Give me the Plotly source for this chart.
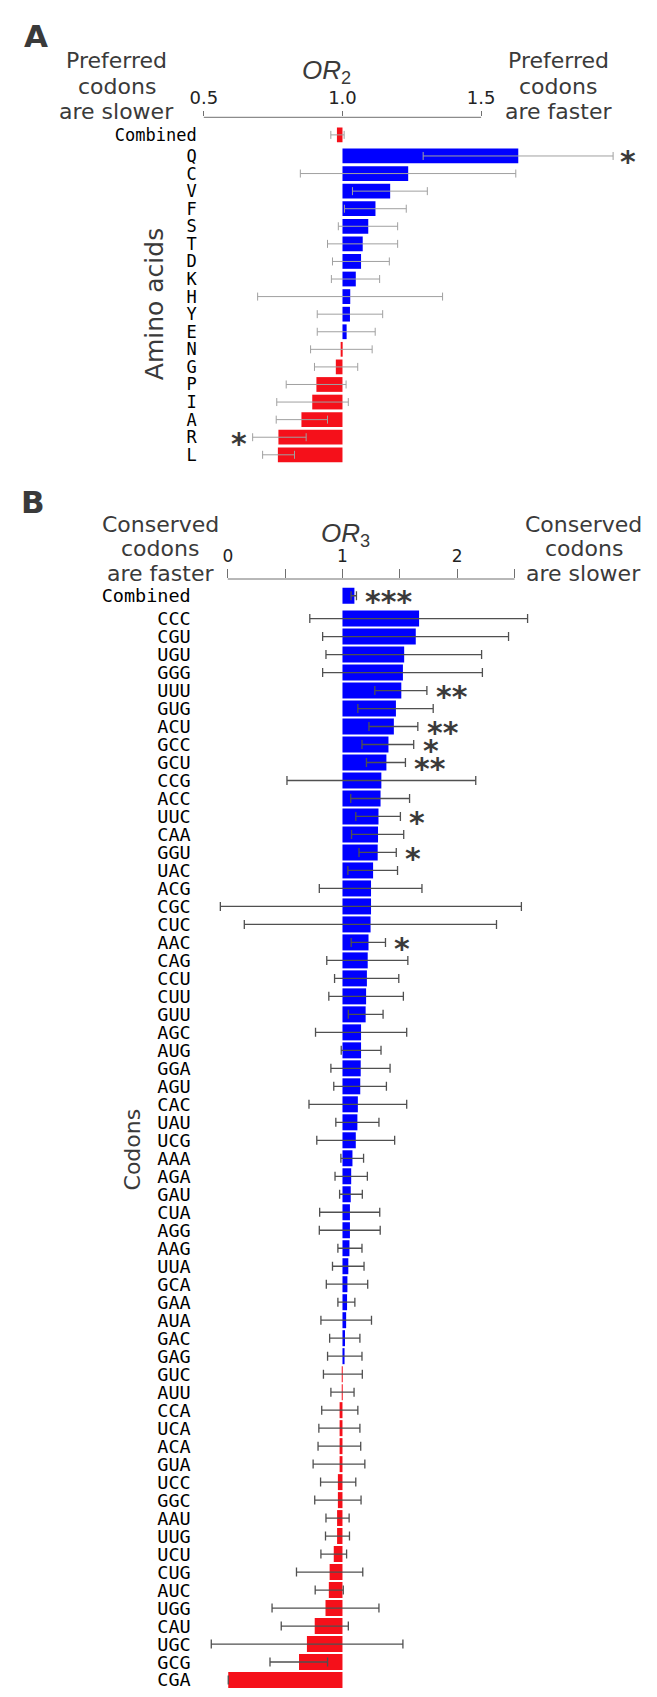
import plotly.graph_objects as go

# ---- panel A: amino acids, OR2 ----
aa_labels = ["Combined", "Q", "C", "V", "F", "S", "T", "D", "K", "H", "Y",
             "E", "N", "G", "P", "I", "A", "R", "L"]
aa_or = [0.980, 1.634, 1.237, 1.172, 1.119, 1.093, 1.073, 1.067, 1.048, 1.028,
         1.027, 1.015, 0.996, 0.976, 0.906, 0.891, 0.852, 0.769, 0.767]
aa_low = [0.958, 1.291, 0.848, 1.036, 1.007, 0.985, 0.946, 0.964, 0.960, 0.694,
          0.909, 0.909, 0.885, 0.899, 0.797, 0.763, 0.761, 0.676, 0.712]
aa_high = [1.006, 1.976, 1.625, 1.306, 1.230, 1.199, 1.199, 1.169, 1.134, 1.361,
           1.145, 1.118, 1.107, 1.055, 1.013, 1.021, 0.946, 0.869, 0.827]
aa_stars = ["", "*", "", "", "", "", "", "", "", "", "", "", "", "", "", "", "", "*", ""]
aa_ticks = [0.5, 1.0, 1.5]
aa_ticktext = ["0.5", "1.0", "1.5"]

# ---- panel B: codons, OR3 ----
cd_labels = ["Combined", "CCC", "CGU", "UGU", "GGG", "UUU", "GUG", "ACU", "GCC", "GCU",
             "CCG", "ACC", "UUC", "CAA", "GGU", "UAC", "ACG", "CGC", "CUC", "AAC",
             "CAG", "CCU", "CUU", "GUU", "AGC", "AUG", "GGA", "AGU", "CAC", "UAU",
             "UCG", "AAA", "AGA", "GAU", "CUA", "AGG", "AAG", "UUA", "GCA", "GAA",
             "AUA", "GAC", "GAG", "GUC", "AUU", "CCA", "UCA", "ACA", "GUA", "UCC",
             "GGC", "AAU", "UUG", "UCU", "CUG", "AUC", "UGG", "CAU", "UGC", "GCG", "CGA"]
cd_or = [1.104, 1.668, 1.639, 1.538, 1.527, 1.513, 1.466, 1.448, 1.401, 1.383,
         1.339, 1.332, 1.314, 1.310, 1.307, 1.267, 1.249, 1.249, 1.245, 1.227,
         1.220, 1.213, 1.206, 1.202, 1.162, 1.162, 1.159, 1.155, 1.134, 1.130,
         1.116, 1.087, 1.076, 1.072, 1.065, 1.065, 1.061, 1.051, 1.043, 1.040,
         1.032, 1.022, 1.018, 0.998, 0.997, 0.975, 0.975, 0.975, 0.975, 0.960,
         0.960, 0.953, 0.953, 0.924, 0.888, 0.881, 0.852, 0.758, 0.690, 0.621, 0.004]
cd_low = [1.075, 0.715, 0.827, 0.856, 0.827, 1.282, 1.134, 1.231, 1.170, 1.209,
          0.516, 1.072, 1.116, 1.079, 1.144, 1.047, 0.798, -0.065, 0.144, 1.076,
          0.863, 0.931, 0.881, 1.051, 0.765, 0.989, 0.899, 0.924, 0.708, 0.942,
          0.776, 0.986, 0.935, 0.975, 0.801, 0.798, 0.960, 0.913, 0.859, 0.960,
          0.812, 0.888, 0.870, 0.834, 0.899, 0.819, 0.794, 0.787, 0.744, 0.809,
          0.758, 0.856, 0.852, 0.812, 0.599, 0.762, 0.386, 0.466, -0.144, 0.368, None]
cd_high = [1.122, 2.614, 2.448, 2.213, 2.220, 1.736, 1.791, 1.657, 1.621, 1.549,
           2.162, 1.585, 1.505, 1.534, 1.469, 1.480, 1.693, 2.560, 2.343, 1.375,
           1.570, 1.491, 1.531, 1.354, 1.560, 1.336, 1.415, 1.383, 1.560, 1.318,
           1.455, 1.184, 1.217, 1.173, 1.325, 1.329, 1.170, 1.188, 1.220, 1.108,
           1.253, 1.152, 1.170, 1.173, 1.101, 1.134, 1.152, 1.159, 1.195, 1.116,
           1.162, 1.058, 1.061, 1.036, 1.177, 1.007, 1.318, 1.051, 1.527, 0.870, None]
cd_stars = ["***", "", "", "", "", "**", "", "**", "*", "**",
            "", "", "*", "", "*", "", "", "", "", "*"] + [""] * 41
cd_ticks = [0, 1, 2]
cd_ticktext = ["0", "1", "2"]
cd_minor = [0.5, 1.5, 2.5]

BLUE = "#0000ff"
RED = "#f5101a"
TEXT = "#3a3a3a"
AXIS = "#707070"
W, H = 657, 1697


def px(x):
    return x / W


def py(y):
    return 1 - y / H


def rows(n, gap):
    # "Combined" sits a little apart from the other rows
    return [-gap] + list(range(n - 1))


def err_plus(vals, highs):
    return [None if h is None else h - v for v, h in zip(vals, highs)]


def err_minus(vals, lows):
    return [None if l is None else v - l for v, l in zip(vals, lows)]


fig = go.Figure()

ya = rows(len(aa_labels), 1.2)
fig.add_trace(go.Bar(
    y=ya, x=[v - 1 for v in aa_or], base=1, orientation="h", width=0.84,
    marker=dict(color=[BLUE if v >= 1 else RED for v in aa_or], line=dict(width=0)),
    error_x=dict(type="data", symmetric=False, array=err_plus(aa_or, aa_high),
                 arrayminus=err_minus(aa_or, aa_low), color="#a0a0a0",
                 thickness=1, width=4),
    xaxis="x", yaxis="y"))

yb = rows(len(cd_labels), 1.27)
fig.add_trace(go.Bar(
    y=yb, x=[v - 1 for v in cd_or], base=1, orientation="h", width=0.89,
    marker=dict(color=[BLUE if v >= 1 else RED for v in cd_or], line=dict(width=0)),
    error_x=dict(type="data", symmetric=False, array=err_plus(cd_or, cd_high),
                 arrayminus=err_minus(cd_or, cd_low), color="#505050",
                 thickness=1.3, width=4.5),
    xaxis="x2", yaxis="y2"))

star_font = dict(family="DejaVu Sans", size=30, color=TEXT)
ann = []
for y, v, lo, hi, s in zip(ya, aa_or, aa_low, aa_high, aa_stars):
    if s:
        right = v >= 1
        ann.append(dict(x=hi if right else lo, y=y, xref="x", yref="y", text="<b>%s</b>" % s,
                        xanchor="left" if right else "right", yanchor="middle",
                        xshift=5 if right else -4, yshift=-6, showarrow=False,
                        font=star_font))
for y, v, hi, s in zip(yb, cd_or, cd_high, cd_stars):
    if s:
        ann.append(dict(x=hi, y=y, xref="x2", yref="y2", text="<b>%s</b>" % s,
                        xanchor="left", yanchor="middle", xshift=7, yshift=-6,
                        showarrow=False, font=star_font))


def label(text, x, y, size, **kw):
    font = dict(family=kw.pop("family", "DejaVu Sans"), size=size, color=kw.pop("color", TEXT))
    ann.append(dict(text=text, x=px(x), y=py(y), xref="paper", yref="paper",
                    xanchor="center", yanchor="middle", showarrow=False, font=font, **kw))


label("<b>A</b>", 28, 36, 31)
label("<b>B</b>", 25, 502, 31)
for txt, yy in zip(["Preferred", "codons", "are slower"], [60, 86, 111]):
    label(txt, 110, yy, 22)
for txt, yy in zip(["Preferred", "codons", "are faster"], [60, 86, 111]):
    label(txt, 557, yy, 22)
for txt, yy in zip(["Conserved", "codons", "are faster"], [524.5, 548.5, 573.5]):
    label(txt, 154, yy, 22)
for txt, yy in zip(["Conserved", "codons", "are slower"], [524.5, 548.5, 573.5]):
    label(txt, 583, yy, 22)
label("<i>OR</i><sub>2</sub>", 322, 71, 26, family="Liberation Sans, Arial")
label("<i>OR</i><sub>3</sub>", 342, 534, 26, family="Liberation Sans, Arial")
label("Amino acids", 148, 304, 25, textangle=-90)
label("Codons", 126, 1149, 22, textangle=-90)

# axis lines only span the ticked part of each scale
shapes = [
    dict(type="line", xref="x", yref="paper", x0=aa_ticks[0], x1=aa_ticks[-1],
         y0=py(117.3), y1=py(117.3), line=dict(color=AXIS, width=1)),
    dict(type="line", xref="x2", yref="paper", x0=cd_ticks[0], x1=cd_minor[-1],
         y0=py(579), y1=py(579), line=dict(color=AXIS, width=1)),
]

axis_common = dict(showgrid=False, zeroline=False, showline=False, side="top",
                   ticks="outside", tickcolor=AXIS, tickwidth=1,
                   tickfont=dict(family="DejaVu Sans", size=18, color="#222222"))
ycommon = dict(showgrid=False, zeroline=False, showline=False, ticks="")

fig.update_layout(
    width=W, height=H, margin=dict(l=0, r=0, t=0, b=0),
    paper_bgcolor="white", plot_bgcolor="white", showlegend=False, hovermode=False,
    xaxis=dict(axis_common, domain=[px(192), px(650)], range=[0.47773, 2.10937],
               tickvals=aa_ticks, ticktext=aa_ticktext, ticklen=5, anchor="y"),
    yaxis=dict(ycommon, domain=[py(467.1), py(117.3)], range=[17.7, -2.2],
               tickvals=ya, ticktext=aa_labels, anchor="x",
               tickfont=dict(family="DejaVu Sans Mono", size=17, color="#000000")),
    xaxis2=dict(axis_common, domain=[px(186), px(650)], range=[-0.31438, 3.68217],
                tickvals=cd_ticks, ticktext=cd_ticktext, ticklen=9, anchor="y2",
                tickfont=dict(family="DejaVu Sans", size=17, color="#222222"),
                minor=dict(tickvals=cd_minor, ticks="outside", ticklen=9,
                           tickcolor=AXIS, tickwidth=1, showgrid=False)),
    yaxis2=dict(ycommon, domain=[py(1690.8), py(579)], range=[59.6, -2.2],
                tickvals=yb, ticktext=cd_labels, anchor="x2",
                tickfont=dict(family="DejaVu Sans Mono", size=18.5, color="#000000")),
    annotations=ann, shapes=shapes,
)

fig.write_html("out.html", config={"displayModeBar": False},
               post_script="document.body.style.margin='0';")
